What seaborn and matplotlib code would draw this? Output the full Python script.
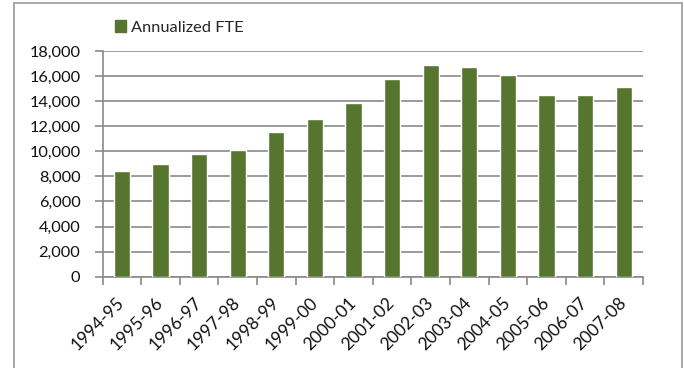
import matplotlib
matplotlib.use("Agg")
import matplotlib.pyplot as plt
import matplotlib.patches as mpatches
from matplotlib.ticker import FixedLocator, FuncFormatter
import seaborn as sns
import pandas as pd

# Annualized full-time-equivalent enrolment by academic year
years = ["1994-95", "1995-96", "1996-97", "1997-98", "1998-99", "1999-00", "2000-01",
         "2001-02", "2002-03", "2003-04", "2004-05", "2005-06", "2006-07", "2007-08"]
fte = [8450, 9000, 9750, 10100, 11550, 12550, 13850,
       15750, 16850, 16750, 16050, 14500, 14500, 15150]
series_name = "Annualized FTE"
y_ticks = list(range(0, 18001, 2000))

sns.set_theme(style="white")
plt.rcParams["font.family"] = ["Lato", "DejaVu Sans"]

BAR = "#56762f"
GRID = "#8a8a8a"
FS = 11.8
FS_X = 12.5

df = pd.DataFrame({"year": years, "fte": fte})

fig = plt.figure(figsize=(6.84, 3.68), dpi=100)
ax = fig.add_axes([0.150, 0.2481, 0.790, 0.6133])

sns.barplot(data=df, x="year", y="fte", color=BAR, saturation=1, width=0.42,
            ax=ax, zorder=3)

ax.set_xlim(-0.5, len(years) - 0.5)
ax.set_ylim(0, 18000)
ax.set_yticks(y_ticks)
ax.yaxis.set_major_formatter(FuncFormatter(lambda v, p: f"{int(v):,}"))
ax.grid(axis="y", color=GRID, linewidth=1.2, zorder=0)
ax.set_axisbelow(True)

for side in ("top", "right"):
    ax.spines[side].set_visible(False)
for side in ("left", "bottom"):
    ax.spines[side].set_color(GRID)
    ax.spines[side].set_linewidth(1.2)

ax.tick_params(axis="y", which="major", left=True, length=6, width=1.2,
               color=GRID, labelsize=FS, labelcolor="#111111", pad=10)
# category labels sit on unticked major positions; boundary ticks are minor
ax.xaxis.set_minor_locator(FixedLocator([i - 0.5 for i in range(len(years) + 1)]))
ax.tick_params(axis="x", which="minor", bottom=True, length=6, width=1.2, color=GRID)
ax.tick_params(axis="x", which="major", bottom=False, length=0, pad=17,
               labelsize=FS_X, labelcolor="#111111")
for lbl in ax.get_xticklabels():
    lbl.set_rotation(45)
    lbl.set_ha("right")
    lbl.set_va("center")
    lbl.set_rotation_mode("anchor")

ax.set_xlabel("")
ax.set_ylabel("")

# legend above the plot area
handle = mpatches.Patch(color=BAR, label=series_name)
fig.legend(handles=[handle], loc="center left", bbox_to_anchor=(0.168, 0.925),
           frameon=False, fontsize=FS, handlelength=0.66, handleheight=0.66,
           handletextpad=0.3, borderpad=0, borderaxespad=0)

# chart-area frame
fig.add_artist(mpatches.Rectangle((14 / 684, -0.05), (682 - 14) / 684, 1 - 3 / 368 + 0.05,
                                  transform=fig.transFigure, fill=False,
                                  edgecolor="#a0a0a0", linewidth=1.3))

fig.savefig("out.png", dpi=100)
